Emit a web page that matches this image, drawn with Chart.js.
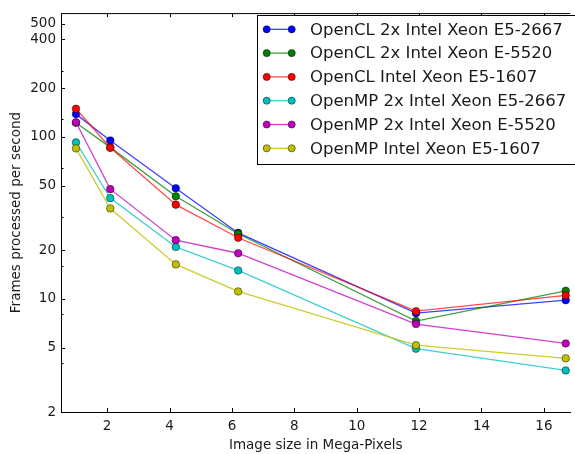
<!DOCTYPE html>
<html>
<head>
<meta charset="utf-8">
<script src="https://cdn.jsdelivr.net/npm/chart.js@4.4.1/dist/chart.umd.min.js"></script>
<style>
    html, body { margin: 0; padding: 0; background: #fff; }
    #contenitore { width: 575px; height: 454px; }
</style>
</head>
<body>
<div id="contenitore"><canvas id="grafico-fps"></canvas></div>
<script>
// --------------- DATI ---------------------
var megaPixel = [1.0, 2.1, 4.2, 6.2, 11.9, 16.7];

var etichette = [
    "OpenCL 2x Intel Xeon E5-2667",
    "OpenCL 2x Intel Xeon E-5520",
    "OpenCL Intel Xeon E5-1607",
    "OpenMP 2x Intel Xeon E5-2667",
    "OpenMP 2x Intel Xeon E-5520",
    "OpenMP Intel Xeon E5-1607"
];

var openclE52667 = [138, 94.9, 48.1, 25.5, 8.15, 9.8];
var openclE5520  = [122, 86, 42.9, 25.2, 7.28, 11.2];
var openclE51607 = [149, 85.5, 38.1, 23.8, 8.38, 10.5];
var openmpE52667 = [92.3, 41.8, 20.9, 14.96, 4.92, 3.61];
var openmpE5520  = [123, 47.5, 23.0, 19.1, 6.98, 5.3];
var openmpE51607 = [84.8, 36.1, 16.3, 11.1, 5.17, 4.29];

var tacchetteX = [2, 4, 6, 8, 10, 12, 14, 16];
var tacchetteYEtichettate = [2, 5, 10, 20, 50, 100, 200, 400, 500];
var tacchetteYMinori = [4, 8, 16, 32, 64, 128, 256];

var serie = [openclE52667, openclE5520, openclE51607, openmpE52667, openmpE5520, openmpE51607];
var colori = ["#0000ff", "#008000", "#ff0000", "#00bfbf", "#bf00bf", "#bfbf00"];
var coloriLinea = ["rgba(0,0,255,0.75)", "rgba(0,128,0,0.75)", "rgba(255,0,0,0.7)",
                   "rgba(0,191,191,0.75)", "rgba(191,0,191,0.75)", "rgba(191,191,0,0.8)"];

var FONT = "'DejaVu Sans', sans-serif";
var coloreTesto = "#1a1a1a";

// --------------- FUNCTIONS ---------------------

function costruisciDataset() {
    var datasets = [];
    for (var i = 0; i < serie.length; i++) {
        var punti = [];
        for (var j = 0; j < megaPixel.length; j++) {
            punti.push({ x: megaPixel[j], y: serie[i][j] });
        }
        datasets.push({
            label: etichette[i],
            data: punti,
            borderColor: coloriLinea[i],
            backgroundColor: colori[i],
            borderWidth: 1.3,
            pointRadius: 3.8,
            pointBorderWidth: 0.6,
            pointBorderColor: "rgba(0,0,0,0.75)",
            pointBackgroundColor: colori[i],
            tension: 0,
            clip: false,
            order: serie.length - i // le ultime serie sopra, come nell'originale
        });
    }
    return datasets;
}

// tacche verso l'interno + bordo superiore
var pluginTacche = {
    id: "tacche",
    afterDatasetsDraw: function(chart) {
        var ctx = chart.ctx;
        var area = chart.chartArea;
        var sx = chart.scales.x;
        var sy = chart.scales.y;
        ctx.save();
        ctx.strokeStyle = "#000";
        ctx.lineWidth = 1;
        ctx.beginPath();
        ctx.moveTo(area.left, area.top + 0.5);
        ctx.lineTo(area.right, area.top + 0.5);
        ctx.stroke();

        for (var i = 0; i < tacchetteX.length; i++) {
            var px = Math.round(sx.getPixelForValue(tacchetteX[i])) + 0.5;
            ctx.beginPath();
            ctx.moveTo(px, area.bottom);
            ctx.lineTo(px, area.bottom - 4);
            ctx.moveTo(px, area.top);
            ctx.lineTo(px, area.top + 4);
            ctx.stroke();
        }
        for (var k = 0; k < sy.ticks.length; k++) {
            var v = sy.ticks[k].value;
            var py = Math.round(sy.getPixelForValue(v)) + 0.5;
            var lung = tacchetteYEtichettate.indexOf(v) >= 0 ? 4 : 2.5;
            ctx.beginPath();
            ctx.moveTo(area.left, py);
            ctx.lineTo(area.left + lung, py);
            ctx.stroke();
        }
        ctx.restore();
    }
};

// legenda dentro il grafico, in alto a destra
var pluginLegenda = {
    id: "legendaInterna",
    afterDraw: function(chart) {
        var ctx = chart.ctx;
        var x0 = 257.5, y0 = 15.5, x1 = 590, y1 = 164.5;
        ctx.save();
        ctx.fillStyle = "#fff";
        ctx.fillRect(x0, y0, x1 - x0, y1 - y0);
        ctx.strokeStyle = "#000";
        ctx.lineWidth = 1;
        ctx.strokeRect(x0, y0, x1 - x0, y1 - y0);

        ctx.font = "16.5px " + FONT;
        ctx.textBaseline = "middle";
        ctx.textAlign = "left";
        for (var i = 0; i < etichette.length; i++) {
            var y = 29.3 + i * 23.8;
            ctx.strokeStyle = coloriLinea[i];
            ctx.lineWidth = 1.3;
            ctx.beginPath();
            ctx.moveTo(266.7, y);
            ctx.lineTo(291.7, y);
            ctx.stroke();
            var xs = [266.7, 291.7];
            for (var j = 0; j < 2; j++) {
                ctx.beginPath();
                ctx.arc(xs[j], y, 3.6, 0, Math.PI * 2);
                ctx.fillStyle = colori[i];
                ctx.fill();
                ctx.lineWidth = 0.6;
                ctx.strokeStyle = "rgba(0,0,0,0.75)";
                ctx.stroke();
            }
            ctx.fillStyle = coloreTesto;
            ctx.fillText(etichette[i], 310, y + 1);
        }
        ctx.restore();
    }
};

var ctx = document.getElementById("grafico-fps");
var chart = new Chart(ctx, {
    type: "line",
    data: { datasets: costruisciDataset() },
    options: {
        responsive: true,
        maintainAspectRatio: false,
        animation: false,
        layout: { padding: { top: 8, right: 0, bottom: 0, left: 0 } },
        plugins: {
            legend: { display: false },
            tooltip: { enabled: false }
        },
        scales: {
            x: {
                type: "linear",
                min: 0.52,
                max: 16.85,
                afterBuildTicks: function(scale) {
                    scale.ticks = tacchetteX.map(function(v) { return { value: v }; });
                },
                afterFit: function(scale) { scale.height = 42; },
                grid: { display: true, drawOnChartArea: false, drawTicks: false },
                border: { display: true, color: "#000", width: 1 },
                ticks: {
                    autoSkip: false,
                    maxRotation: 0,
                    padding: 6,
                    color: coloreTesto,
                    font: { family: FONT, size: 13.5 }
                },
                title: {
                    display: true,
                    text: "Image size in Mega-Pixels",
                    color: coloreTesto,
                    font: { family: FONT, size: 13.5 },
                    padding: { top: 0, bottom: 0 }
                }
            },
            y: {
                type: "logarithmic",
                min: 2,
                max: 580,
                afterBuildTicks: function(scale) {
                    var valori = tacchetteYEtichettate.concat(tacchetteYMinori);
                    valori.sort(function(a, b) { return a - b; });
                    scale.ticks = valori.map(function(v) { return { value: v }; });
                },
                afterFit: function(scale) { scale.width = 61; },
                grid: { display: true, drawOnChartArea: false, drawTicks: false },
                border: { display: true, color: "#000", width: 1 },
                ticks: {
                    autoSkip: false,
                    padding: 5,
                    color: coloreTesto,
                    font: { family: FONT, size: 13.5 },
                    callback: function(value) {
                        return tacchetteYEtichettate.indexOf(value) >= 0 ? String(value) : "";
                    }
                },
                title: {
                    display: true,
                    text: "Frames processed per second",
                    color: coloreTesto,
                    font: { family: FONT, size: 13.5 },
                    padding: { top: 8, bottom: 0 }
                }
            }
        }
    },
    plugins: [pluginTacche, pluginLegenda]
});
</script>
</body>
</html>
